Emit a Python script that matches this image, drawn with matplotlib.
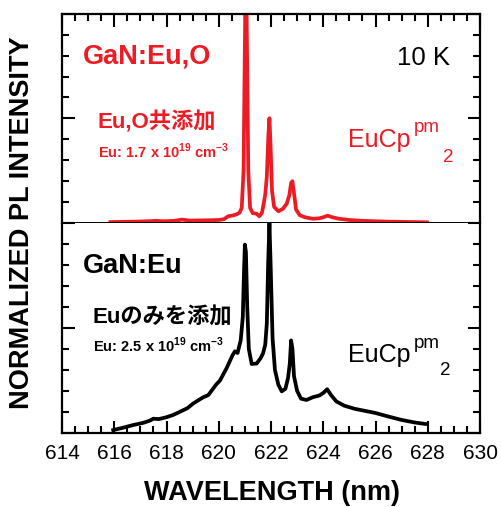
import matplotlib
matplotlib.use("Agg")
import matplotlib.pyplot as plt
from matplotlib.ticker import MultipleLocator

plt.rcParams["font.family"] = ["Liberation Sans", "Noto Sans CJK JP", "DejaVu Sans"]
plt.rcParams["mathtext.fontset"] = "custom"
plt.rcParams["mathtext.rm"] = "Liberation Sans"
plt.rcParams["mathtext.bf"] = "Liberation Sans:bold"

RED = "#ed1c24"

# GaN:Eu,O (top panel)
wl_red = [615.85, 616.3, 616.8, 617.3, 617.6, 617.9, 618.3, 618.6, 618.9, 619.3,
          619.7, 620.0, 620.2, 620.36, 620.55, 620.7, 620.8, 620.88, 620.95, 621.0,
          621.04, 621.08, 621.13, 621.2, 621.3, 621.45, 621.55, 621.65, 621.72, 621.78,
          621.84, 621.9, 621.94, 621.98, 622.04, 622.12, 622.28, 622.45, 622.6, 622.7,
          622.77, 622.82, 622.87, 622.96, 623.1, 623.3, 623.6, 623.85, 624.0, 624.17,
          624.35, 624.6, 625.0, 625.5, 626.0, 626.5, 627.0, 627.5, 627.97]
int_red = [0.002, 0.003, 0.004, 0.006, 0.008, 0.006, 0.008, 0.014, 0.009, 0.010,
           0.011, 0.012, 0.016, 0.030, 0.034, 0.040, 0.048, 0.07, 0.25, 0.85,
           1.30, 0.85, 0.25, 0.07, 0.045, 0.042, 0.030, 0.045, 0.09, 0.135,
           0.22, 0.42, 0.50, 0.38, 0.15, 0.075, 0.054, 0.065, 0.09, 0.13,
           0.19, 0.198, 0.15, 0.062, 0.035, 0.025, 0.018, 0.020, 0.025, 0.033,
           0.025, 0.018, 0.012, 0.008, 0.006, 0.004, 0.003, 0.002, 0.001]

# GaN:Eu (bottom panel)
wl_blk = [615.96, 616.3, 616.73, 617.1, 617.35, 617.5, 617.7, 618.0, 618.26, 618.5,
          618.8, 619.02, 619.25, 619.41, 619.6, 619.9, 620.05, 620.3, 620.53, 620.62,
          620.72, 620.84, 620.92, 620.97, 621.0, 621.04, 621.09, 621.15, 621.26, 621.45,
          621.6, 621.7, 621.78, 621.84, 621.89, 621.94, 621.99, 622.06, 622.15, 622.28,
          622.41, 622.55, 622.65, 622.72, 622.77, 622.82, 622.88, 623.0, 623.15, 623.36,
          623.6, 623.85, 624.0, 624.15, 624.3, 624.5, 624.8, 625.2, 625.6, 626.0,
          626.5, 627.0, 627.5, 627.9]
int_blk = [0.014, 0.024, 0.038, 0.048, 0.058, 0.068, 0.066, 0.075, 0.086, 0.10,
           0.118, 0.140, 0.158, 0.170, 0.180, 0.230, 0.250, 0.308, 0.370, 0.388,
           0.380, 0.44, 0.55, 0.78, 0.895, 0.86, 0.60, 0.40, 0.328, 0.33,
           0.355, 0.38, 0.42, 0.52, 0.80, 1.0, 0.78, 0.45, 0.30, 0.23,
           0.198, 0.21, 0.26, 0.33, 0.44, 0.40, 0.27, 0.20, 0.163, 0.157,
           0.170, 0.178, 0.190, 0.208, 0.180, 0.150, 0.130, 0.115, 0.105, 0.095,
           0.078, 0.062, 0.050, 0.043]

x_ticks = list(range(614, 631, 2))

fig = plt.figure(figsize=(5.01, 5.07), dpi=100)
left, width = 62 / 501, 418 / 501
ax_top = fig.add_axes([left, 1 - 222.5 / 507, width, 208.5 / 507])
ax_bot = fig.add_axes([left, 1 - 433 / 507, width, 210.5 / 507])

ax_top.plot(wl_red, int_red, color=RED, lw=2.7, solid_joinstyle="round")
ax_bot.plot(wl_blk, int_blk, color="black", lw=2.7, solid_joinstyle="round")

for ax in (ax_top, ax_bot):
    ax.set_xlim(614, 630)
    ax.set_ylim(0, 1)
    ax.set_xticks(x_ticks)
    ax.xaxis.set_minor_locator(MultipleLocator(0.5))
    ax.yaxis.set_major_locator(MultipleLocator(0.5))
    ax.yaxis.set_minor_locator(MultipleLocator(0.1))
    ax.tick_params(which="both", direction="in", width=1.5, color="black",
                   left=True, right=True, labelleft=False)
    ax.tick_params(which="major", length=9)
    ax.tick_params(which="minor", length=5)
    for s in ax.spines.values():
        s.set_linewidth(1.6)

ax_top.tick_params(which="both", top=True, bottom=False, labelbottom=False)
ax_bot.tick_params(which="both", top=False, bottom=True, labelsize=15, pad=8)
ax_top.spines["bottom"].set_linewidth(1.4)
ax_top.spines["bottom"].set_zorder(5)
ax_bot.spines["top"].set_visible(False)

# top panel labels
ax_top.text(0.05, 0.764, "GaN:Eu,O", color=RED, fontsize=19.5, fontweight="bold",
            transform=ax_top.transAxes)
ax_top.text(0.085, 0.453, "Eu,O共添加", color=RED, fontsize=16, fontweight="bold",
            transform=ax_top.transAxes)
ax_top.text(0.085, 0.308, r"Eu: 1.7 x 10$^{\mathbf{19}}$ cm$^{\mathbf{-3}}$", color=RED,
            fontsize=10.5, fontweight="bold", transform=ax_top.transAxes)
ax_top.text(0.801, 0.755, "10 K", color="black", fontsize=18.5, transform=ax_top.transAxes)
ax_top.text(0.684, 0.362, "EuCp", color=RED, fontsize=18, transform=ax_top.transAxes)
ax_top.text(0.841, 0.434, "pm", color=RED, fontsize=13.5, transform=ax_top.transAxes)
ax_top.text(0.911, 0.29, "2", color=RED, fontsize=13.5, transform=ax_top.transAxes)

# bottom panel labels
ax_bot.text(0.05, 0.759, "GaN:Eu", color="black", fontsize=19.5, fontweight="bold",
            transform=ax_bot.transAxes)
ax_bot.text(0.073, 0.52, "Euのみを添加", color="black", fontsize=16, fontweight="bold",
            transform=ax_bot.transAxes)
ax_bot.text(0.074, 0.386, r"Eu: 2.5 x 10$^{\mathbf{19}}$ cm$^{\mathbf{-3}}$", color="black",
            fontsize=10.5, fontweight="bold", transform=ax_bot.transAxes)
ax_bot.text(0.684, 0.337, "EuCp", color="black", fontsize=18, transform=ax_bot.transAxes)
ax_bot.text(0.841, 0.404, "pm", color="black", fontsize=13.5, transform=ax_bot.transAxes)
ax_bot.text(0.904, 0.276, "2", color="black", fontsize=13.5, transform=ax_bot.transAxes)

fig.text(22 / 501, 1 - 222.5 / 507, "NORMALIZED PL INTENSITY", rotation=90,
         ha="center", va="center", fontsize=19.5, fontweight="bold")
fig.text(272 / 501, 1 - 493 / 507, "WAVELENGTH (nm)", ha="center", va="center",
         fontsize=19.5, fontweight="bold")

fig.savefig("out.png", dpi=100)
